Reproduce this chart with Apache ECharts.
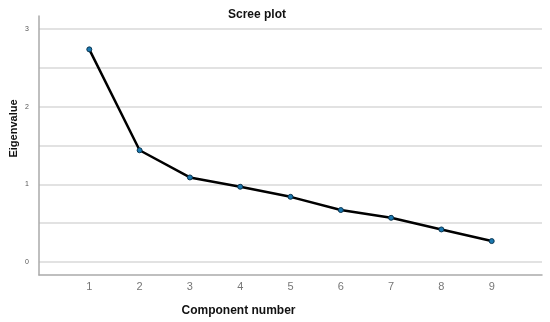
<!DOCTYPE html>
<html>
<head>
<meta charset="utf-8">
<script src="https://cdn.jsdelivr.net/npm/echarts@6/dist/echarts.min.js"></script>
<style>html,body{margin:0;padding:0;background:#fff}#c{width:550px;height:322px}</style>
</head>
<body>
<div id="c"></div>
<script>
const components = [1, 2, 3, 4, 5, 6, 7, 8, 9];
const eigenvalues = [2.74, 1.44, 1.09, 0.97, 0.84, 0.67, 0.57, 0.42, 0.27];
const yTickLabels = [0, 1, 2, 3];
const yGridValues = [0, 0.5, 1, 1.5, 2, 2.5, 3];

const chart = echarts.init(document.getElementById('c'));
const font = '"Liberation Sans", Arial, sans-serif';
chart.setOption({
  animation: false,
  title: {
    text: 'Scree plot', left: 223, top: 4,
    textStyle: {fontFamily: font, fontSize: 12, fontWeight: 'bold', color: '#111'}
  },
  grid: {left: 39, right: 8, top: 16, bottom: 47, containLabel: false, outerBoundsMode: 'none'},
  xAxis: {
    type: 'value', min: 0, max: 10, interval: 1,
    name: 'Component number', nameLocation: 'middle', nameGap: 30, nameMoveOverlap: false,
    nameTextStyle: {fontFamily: font, fontSize: 12, fontWeight: 'bold', color: '#111', padding: [0, 104, 0, 0]},
    axisLine: {show: true, onZero: false, lineStyle: {color: '#aaa', width: 1.5}},
    axisTick: {show: false},
    splitLine: {show: false},
    axisLabel: {
      fontFamily: font, fontSize: 11, color: '#777', margin: 6,
      formatter: v => (components.indexOf(v) >= 0 ? String(v) : '')
    }
  },
  yAxis: {
    type: 'value', min: -0.167, max: 3.17,
    name: 'Eigenvalue', nameLocation: 'middle', nameGap: 20, nameRotate: 90, nameMoveOverlap: false,
    nameTextStyle: {fontFamily: font, fontSize: 11, fontWeight: 'bold', color: '#111', padding: [0, 0, 0, 34]},
    axisLine: {show: true, lineStyle: {color: '#aaa', width: 1.5}},
    axisTick: {show: false, customValues: yGridValues},
    splitLine: {show: true, lineStyle: {color: '#d9d9d9', width: 1.5}},
    axisLabel: {fontFamily: font, fontSize: 7, color: '#555', margin: 10, customValues: yTickLabels}
  },
  series: [{
    type: 'line',
    data: components.map((c, i) => [c, eigenvalues[i]]),
    symbol: 'circle', symbolSize: 5,
    lineStyle: {color: '#000', width: 2.5},
    itemStyle: {color: '#1a78b0', borderColor: '#0a3550', borderWidth: 1},
    z: 3
  }]
});
</script>
</body>
</html>
